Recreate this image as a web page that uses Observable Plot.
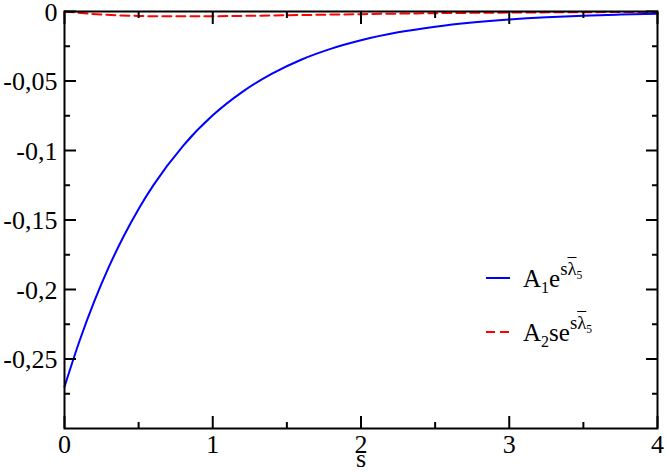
<!DOCTYPE html>
<html><head><meta charset="utf-8">
<script src="https://cdn.jsdelivr.net/npm/d3@7"></script>
<script src="https://cdn.jsdelivr.net/npm/@observablehq/plot@0.6"></script>
<style>
body{margin:0;background:#fff;}
#wrap{position:relative;width:667px;height:475px;font-family:"Liberation Serif","Times New Roman",serif;}
#wrap svg text{font-family:"Liberation Serif","Times New Roman",serif !important;font-size:26px !important;}
.leg{position:absolute;left:486px;font-size:25px;line-height:1;color:#000;white-space:nowrap;display:flex;align-items:center;font-family:"Liberation Serif",serif;}
.leg svg{margin-right:13px;}
.leg .sp{font-size:0.75em;vertical-align:0.62em;}
.leg .sb{font-size:0.64em;vertical-align:-0.4em;}
.leg .sp .sb{font-size:0.62em;vertical-align:-0.35em;}
.bar{text-decoration:overline;}
</style></head><body><div id="wrap"></div>
<script>
// s values and curve values
const sBlue = [0,0.1,0.2,0.3,0.4,0.5,0.6,0.8,1.0,1.2,1.4,1.6,1.8,2.0,2.25,2.5,2.75,3,3.25,3.5,3.75,4];
const blueValues = [-0.270,-0.2374,-0.2088,-0.1836,-0.1615,-0.1420,-0.1249,-0.0966,-0.0747,-0.0578,-0.0447,-0.0345,-0.0267,-0.0207,-0.0150,-0.0109,-0.0079,-0.0057,-0.0041,-0.0030,-0.0022,-0.0016];
const sRed = [0,0.25,0.5,0.75,1,1.25,1.5,1.75,2,2.5,3,3.5,4];
const redValues = [0,-0.0022,-0.0032,-0.0035,-0.0034,-0.0031,-0.0027,-0.0023,-0.0019,-0.0012,-0.0008,-0.0005,-0.0003];
const xTicks = [0,1,2,3,4];
const xMinor = [0.5,1.5,2.5,3.5];
const yTicks = [0,-0.05,-0.1,-0.15,-0.2,-0.25];
const yMinor = [-0.025,-0.075,-0.125,-0.175,-0.225,-0.275];

const blue = sBlue.map((s,i)=>({s, v: blueValues[i]}));
const red = sRed.map((s,i)=>({s, v: redValues[i]}));
const fmt = d => String(d).replace(".", ",");
const FONT = '"Liberation Serif", "Times New Roman", serif';

const plot = Plot.plot({
  width: 667, height: 475,
  marginLeft: 64, marginRight: 10, marginTop: 11, marginBottom: 47,
  style: {fontFamily: FONT, fontSize: "26px", background: "#fff", color: "#000", overflow: "visible"},
  x: {domain: [0, 4]},
  y: {domain: [-0.3, 0]},
  marks: [
    Plot.line(red, {x: "s", y: "v", stroke: "#ff0000", strokeWidth: 2, strokeDasharray: "9,5", curve: "monotone-x"}),
    Plot.line(blue, {x: "s", y: "v", stroke: "#0000ff", strokeWidth: 2, curve: "monotone-x"}),
    Plot.axisX(xTicks, {anchor: "bottom", tickSize: -12, text: null, label: null, strokeWidth: 2}),
    Plot.axisX(xMinor, {anchor: "bottom", tickSize: -6, text: null, label: null, strokeWidth: 2}),
    Plot.axisX(xTicks, {anchor: "top", tickSize: -12, text: null, label: null, strokeWidth: 2}),
    Plot.axisX(xMinor, {anchor: "top", tickSize: -6, text: null, label: null, strokeWidth: 2}),
    Plot.axisY(yTicks, {anchor: "left", tickSize: -12, text: null, label: null, strokeWidth: 2}),
    Plot.axisY(yMinor, {anchor: "left", tickSize: -6, text: null, label: null, strokeWidth: 2}),
    Plot.axisY(yTicks, {anchor: "right", tickSize: -12, text: null, label: null, strokeWidth: 2}),
    Plot.axisY(yMinor, {anchor: "right", tickSize: -6, text: null, label: null, strokeWidth: 2}),
    Plot.axisX(xTicks, {anchor: "bottom", tickSize: 0, tickPadding: 6, label: null, tickFormat: fmt, fontSize: 26, fontFamily: FONT}),
    Plot.axisY(yTicks, {anchor: "left", tickSize: 0, tickPadding: 7, label: null, tickFormat: fmt, fontSize: 26, fontFamily: FONT, dy: 1}),
    Plot.text(["s"], {frameAnchor: "bottom", dy: 38, fontSize: 26, fontFamily: FONT}),
    Plot.frame({stroke: "#000", strokeWidth: 2})
  ]
});
const wrap = document.getElementById("wrap");
wrap.appendChild(plot);

const legend = [
  {html: 'A<span class="sb">1</span>e<span class="sp">s<span class="bar">λ</span><span class="sb">5</span></span>', color: "#0000ff", dash: null, top: 260},
  {html: 'A<span class="sb">2</span>se<span class="sp">s<span class="bar">λ</span><span class="sb">5</span></span>', color: "#ff0000", dash: "9,5", top: 314}
];
for (const e of legend) {
  const d = document.createElement("div");
  d.className = "leg";
  d.style.top = e.top + "px";
  d.innerHTML = `<svg width="24" height="4"><line x1="0" y1="2" x2="24" y2="2" stroke="${e.color}" stroke-width="2" ${e.dash ? `stroke-dasharray="${e.dash}"` : ""}/></svg><span>${e.html}</span>`;
  wrap.appendChild(d);
}
</script></body></html>
